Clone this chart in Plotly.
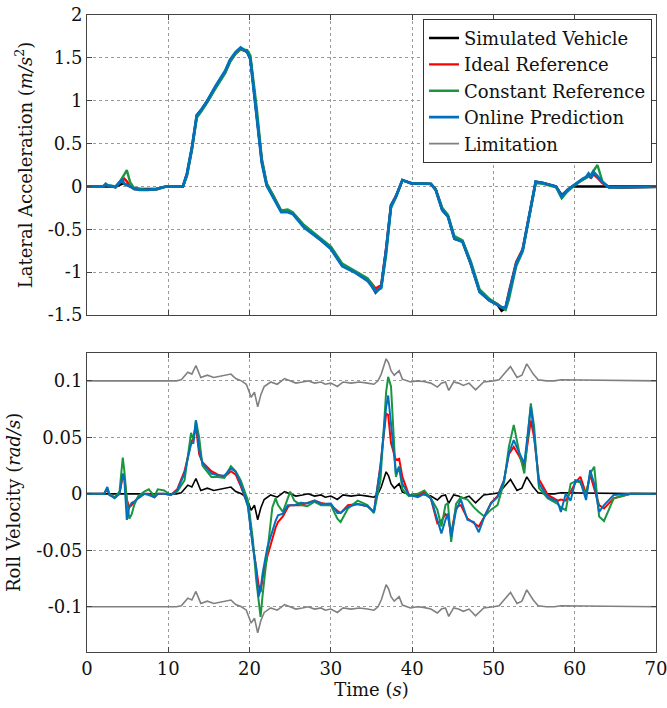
import plotly.graph_objects as go

# ---------------- Top: lateral acceleration (m/s^2) ----------------
TOP_T = [0, 2.0, 2.3, 2.6, 3.0, 3.5, 4.0, 4.3, 4.6, 4.9, 5.3, 5.8, 6.5, 7.5, 8.5, 9.3, 9.8, 11.8,
         12.3, 12.9, 13.5, 14.1, 14.8, 15.8, 17.0, 17.6, 18.3, 18.9, 19.7, 20.1, 20.9, 21.5, 22.1,
         23.0, 23.9, 24.7, 25.3, 26.7, 28.8, 30.0, 31.4, 32.9, 34.5, 35.0, 35.5, 36.2, 36.8, 37.4,
         38.0, 38.8, 39.9, 42.3, 42.9, 43.7, 44.4, 45.2, 46.2, 47.2, 48.3, 49.5, 50.5, 51.0, 51.5,
         51.9, 52.8, 53.6, 54.4, 55.2, 56.1, 57.7, 58.4, 59.1, 59.7, 60.4, 61.0, 61.4, 61.7, 62.0,
         62.3, 62.8, 63.4, 64.2, 66.0, 70.0]
ACC_VEHICLE = [0, 0, 0.005, 0, 0, -0.005, 0.02, 0.03, 0.03, 0.02, 0, -0.02, -0.03, -0.03, -0.03, -0.01, 0, 0,
               0.15, 0.45, 0.83, 0.9, 1.0, 1.16, 1.34, 1.47, 1.56, 1.61, 1.57, 1.49, 0.83, 0.29, 0.02,
               -0.14, -0.295, -0.29, -0.31, -0.47, -0.625, -0.72, -0.92, -0.995, -1.09, -1.15, -1.24, -1.17, -0.74, -0.22,
               -0.12, 0.075, 0.035, 0.03, -0.04, -0.275, -0.35, -0.61, -0.645, -0.9, -1.23, -1.33, -1.38, -1.45, -1.42,
               -1.25, -0.9, -0.74, -0.35, 0.055, 0.04, 0.0, -0.1, -0.04, 0.0, 0.0, 0.0, 0.0, 0.0, 0.0,
               0.0, 0.0, 0.0, 0.0, 0.0, 0.0]
ACC_IDEAL = [0, 0, 0.02, 0.01, 0.0, -0.01, 0.04, 0.07, 0.09, 0.06, 0.0, -0.03, -0.04, -0.04, -0.035, -0.01, 0, 0,
             0.14, 0.43, 0.81, 0.89, 0.99, 1.15, 1.33, 1.46, 1.55, 1.6, 1.57, 1.5, 0.86, 0.31, 0.03,
             -0.12, -0.29, -0.28, -0.31, -0.46, -0.62, -0.71, -0.91, -0.99, -1.08, -1.13, -1.19, -1.15, -0.72, -0.22,
             -0.11, 0.07, 0.04, 0.03, -0.03, -0.26, -0.34, -0.6, -0.64, -0.89, -1.22, -1.32, -1.37, -1.41, -1.41,
             -1.23, -0.88, -0.73, -0.34, 0.05, 0.04, 0.0, -0.11, -0.04, 0.0, 0.05, 0.08, 0.1, 0.12, 0.1,
             0.14, 0.1, 0.04, -0.01, -0.015, -0.005]
ACC_CONSTANT = [0, 0, 0.02, 0.01, 0.01, 0.0, 0.05, 0.09, 0.14, 0.19, 0.05, -0.02, -0.03, -0.04, -0.035, -0.01, 0, 0,
                0.12, 0.42, 0.8, 0.88, 0.98, 1.14, 1.32, 1.45, 1.55, 1.6, 1.59, 1.53, 0.9, 0.33, 0.04,
                -0.12, -0.28, -0.27, -0.3, -0.45, -0.61, -0.7, -0.9, -0.98, -1.07, -1.13, -1.22, -1.19, -0.8, -0.25,
                -0.13, 0.07, 0.04, 0.03, -0.03, -0.25, -0.33, -0.58, -0.63, -0.87, -1.2, -1.31, -1.37, -1.4, -1.44,
                -1.32, -0.93, -0.76, -0.38, 0.04, 0.03, -0.01, -0.14, -0.06, -0.01, 0.04, 0.08, 0.1, 0.12, 0.14,
                0.18, 0.25, 0.06, -0.01, -0.01, -0.005]
ACC_ONLINE = [0, 0, 0.03, 0.01, 0.005, -0.01, 0.05, 0.075, 0.03, 0.02, 0.0, -0.03, -0.04, -0.04, -0.03, -0.01, 0, 0,
              0.15, 0.45, 0.83, 0.9, 1.0, 1.17, 1.35, 1.48, 1.57, 1.62, 1.57, 1.48, 0.82, 0.28, 0.01,
              -0.14, -0.3, -0.3, -0.32, -0.48, -0.63, -0.73, -0.93, -1.0, -1.1, -1.16, -1.23, -1.17, -0.74, -0.22,
              -0.12, 0.075, 0.035, 0.03, -0.04, -0.275, -0.35, -0.61, -0.645, -0.9, -1.23, -1.33, -1.38, -1.41, -1.41,
              -1.25, -0.9, -0.74, -0.35, 0.055, 0.04, 0.0, -0.12, -0.04, 0.0, 0.05, 0.09, 0.11, 0.15, 0.1,
              0.17, 0.12, 0.05, -0.01, -0.01, -0.005]

# ---------------- Bottom: roll velocity (rad/s) ----------------
ROLL_T = [0, 2.1, 2.5, 2.75, 3.4, 4.0, 4.4, 4.6, 4.9, 5.2, 5.5, 5.8, 6.3, 7.05, 7.6, 8.3, 8.7, 9.5, 10.3,
          11.1, 12.0, 12.8, 13.1, 13.4, 13.8, 14.2, 15.3, 16.1, 16.9, 17.7, 18.3, 18.9, 19.8, 20.4, 20.8,
          21.1, 21.35, 21.6, 22.2, 22.8, 23.2, 23.5, 24.1, 24.7, 25.0, 25.5, 26.3, 27.1, 28.0, 28.8, 30.0,
          30.8, 31.2, 32.1, 33.3, 34.5, 35.3, 36.1, 36.8, 37.05, 37.4, 38.0, 38.4, 38.8, 39.6, 40.7, 41.5,
          42.3, 43.1, 43.6, 44.1, 44.4, 44.8, 45.4, 46.0, 46.8, 47.6, 48.2, 48.9, 49.7, 50.5, 51.3, 51.9,
          52.5, 53.2, 53.8, 54.6, 55.0, 55.6, 56.7, 57.9, 58.3, 58.9, 59.5, 60.1, 60.7, 61.4, 61.9, 62.4,
          63.0, 63.6, 64.8, 66.9, 70.0]
ROLL_ONLINE = [0, 0, 0.006, -0.001, -0.004, 0.0, 0.018, 0.012, -0.023, -0.0115, -0.008, -0.007, -0.004, 0.0, -0.001, -0.003, 0.0, 0.0, -0.001,
               0.003, 0.018, 0.0445, 0.045, 0.065, 0.039, 0.027, 0.018, 0.0165, 0.016, 0.0225, 0.0195, 0.009, -0.0115, -0.047, -0.065,
               -0.091, -0.085, -0.0705, -0.047, -0.032, -0.024, -0.019, -0.0175, -0.01, -0.01, -0.01, -0.008, -0.0085, -0.006, -0.009, -0.0085,
               -0.017, -0.017, -0.0115, -0.009, -0.011, -0.016, 0.024, 0.077, 0.087, 0.062, 0.018, 0.024, 0.009, -0.001, -0.003, 0.0,
               -0.004, -0.023, -0.035, -0.023, -0.0175, -0.038, -0.0145, -0.005, -0.023, -0.025, -0.034, -0.02, -0.0085, -0.003, 0.012, 0.036,
               0.0475, 0.036, 0.027, 0.077, 0.053, 0.009, -0.003, -0.007, -0.016, 0.0, -0.006, 0.012, 0.011, -0.0055, 0.021, 0.009,
               -0.016, -0.01, -0.001, 0.0, 0.0]
ROLL_IDEAL = [0, 0, 0.004, -0.001, -0.003, 0.0, 0.016, 0.014, -0.005, -0.012, -0.01, -0.007, -0.003, 0.0, 0.0, -0.003, 0.0, 0.0, -0.001,
              0.004, 0.02, 0.045, 0.05, 0.06, 0.035, 0.028, 0.02, 0.017, 0.015, 0.02, 0.017, 0.007, -0.01, -0.045, -0.068,
              -0.08, -0.087, -0.075, -0.055, -0.04, -0.03, -0.025, -0.02, -0.012, -0.01, -0.01, -0.01, -0.008, -0.006, -0.008, -0.01,
              -0.015, -0.017, -0.01, -0.009, -0.011, -0.016, 0.025, 0.071, 0.07, 0.045, 0.03, 0.031, 0.015, -0.001, -0.002, 0.002,
              -0.004, -0.026, -0.024, -0.018, -0.02, -0.035, -0.012, -0.01, -0.022, -0.026, -0.029, -0.02, -0.008, -0.002, 0.012, 0.035,
              0.0415, 0.033, 0.024, 0.065, 0.05, 0.013, -0.001, -0.006, -0.005, -0.006, 0.002, 0.01, 0.015, 0.0, 0.017, 0.005,
              -0.01, -0.013, -0.004, 0.0, 0.0]
ROLL_CONSTANT = [0, 0, 0.005, 0.0, -0.003, 0.002, 0.032, 0.02, -0.005, -0.022, -0.018, -0.01, -0.002, 0.002, 0.004, -0.002, 0.004, 0.003, -0.001,
                 0.002, 0.012, 0.054, 0.048, 0.065, 0.05, 0.025, 0.015, 0.015, 0.014, 0.0245, 0.02, 0.012, -0.006, -0.04, -0.075,
                 -0.095, -0.109, -0.09, -0.05, -0.012, -0.004, -0.01, -0.016, -0.004, 0.002, -0.006, -0.01, -0.011, -0.007, -0.01, -0.01,
                 -0.022, -0.025, -0.013, -0.006, -0.01, -0.017, 0.012, 0.09, 0.1035, 0.095, 0.015, 0.024, 0.004, -0.002, 0.0, 0.003,
                 -0.004, -0.014, -0.029, -0.01, -0.008, -0.0425, -0.009, -0.003, -0.005, -0.012, -0.016, -0.02, -0.014, -0.01, 0.01, 0.0415,
                 0.061, 0.036, 0.018, 0.08, 0.06, 0.005, -0.004, -0.009, -0.012, -0.0145, 0.009, 0.011, 0.01, -0.001, 0.018, 0.024,
                 -0.02, -0.024, -0.004, 0.0, 0.0]

VEH_T = [0, 11.0, 11.6, 12.4, 12.9, 13.4, 14.0, 14.8, 15.6, 16.4, 17.3, 17.7, 18.3, 19.0, 19.6, 20.2, 20.6, 21.0,
         21.4, 21.8, 22.6, 23.4, 24.3, 25.0, 25.7, 26.5, 27.2, 28.0, 28.8, 29.3, 30.0, 30.8, 31.5, 32.5, 33.5,
         34.5, 35.3, 35.8, 36.2, 36.8, 37.1, 37.4, 37.8, 38.4, 38.8, 39.8, 40.6, 41.4, 42.3, 43.1, 43.6, 44.1,
         44.5, 45.1, 45.7, 46.3, 47.0, 47.8, 48.8, 50.0, 50.7, 51.3, 52.1, 52.9, 53.5, 54.1, 54.9, 55.5, 56.5,
         57.5, 58.3, 70.0]
ROLL_VEHICLE = [0, 0, 0.001, 0.0077, 0.006, 0.0136, 0.003, 0.005, 0.003, 0.004, 0.005, 0.006, 0.002, 0.0, -0.003, -0.0145, -0.01, -0.023,
                -0.012, -0.005, -0.001, -0.003, 0.002, 0.0, -0.002, -0.001, 0.0, -0.002, -0.001, -0.003, -0.002, -0.005, -0.001, -0.002, -0.001,
                -0.002, -0.003, 0.0, 0.006, 0.0195, 0.016, 0.009, 0.005, 0.009, 0.0015, -0.001, 0.0, -0.0005, -0.002, -0.0055, -0.002, -0.001,
                -0.0085, -0.001, -0.002, -0.004, -0.002, -0.008, -0.001, 0.0, 0.001, 0.006, 0.0127, 0.003, 0.005, 0.015, 0.006, 0.001, 0.0,
                0.0, 0.001, 0.0]
LIMIT_MARGIN = 0.1  # limitation band = vehicle roll velocity +/- margin

TOP_TICKS = [-1.5, -1, -0.5, 0, 0.5, 1, 1.5, 2]
TOP_TICK_LABELS = ["-1.5", "-1", "-0.5", "0", "0.5", "1", "1.5", "2"]
BOT_TICKS = [-0.1, -0.05, 0, 0.05, 0.1]
BOT_TICK_LABELS = ["-0.1", "-0.05", "0", "0.05", "0.1"]

for arr in (ACC_VEHICLE, ACC_IDEAL, ACC_CONSTANT, ACC_ONLINE):
    assert len(arr) == len(TOP_T), len(arr)
for arr in (ROLL_ONLINE, ROLL_IDEAL, ROLL_CONSTANT):
    assert len(arr) == len(ROLL_T), len(arr)
assert len(ROLL_VEHICLE) == len(VEH_T)

LIM_UPPER = [v + LIMIT_MARGIN for v in ROLL_VEHICLE]
LIM_LOWER = [v - LIMIT_MARGIN for v in ROLL_VEHICLE]

NAMES = ["Simulated Vehicle", "Ideal Reference", "Constant Reference", "Online Prediction", "Limitation"]
COLORS = ["#000000", "#ff0000", "#1a9641", "#0072bd", "#808080"]
FONT = "DejaVu Serif"

fig = go.Figure()
top_series = [ACC_VEHICLE, ACC_IDEAL, ACC_CONSTANT, ACC_ONLINE]
for i, ys in enumerate(top_series):
    fig.add_trace(go.Scatter(x=TOP_T, y=ys, mode="lines", name=NAMES[i],
                             line=dict(color=COLORS[i], width=2.8 if i == 3 else 2.4),
                             xaxis="x", yaxis="y"))
# Limitation band: drawn in the lower panel (upper bound carries the legend entry)
fig.add_trace(go.Scatter(x=VEH_T, y=LIM_UPPER, mode="lines", name=NAMES[4],
                         line=dict(color=COLORS[4], width=1.6), xaxis="x2", yaxis="y2"))
fig.add_trace(go.Scatter(x=VEH_T, y=LIM_LOWER, mode="lines", line=dict(color=COLORS[4], width=1.6),
                         xaxis="x2", yaxis="y2", showlegend=False))
fig.add_trace(go.Scatter(x=VEH_T, y=ROLL_VEHICLE, mode="lines", line=dict(color=COLORS[0], width=1.6),
                         xaxis="x2", yaxis="y2", showlegend=False))
for ys, c in ((ROLL_IDEAL, COLORS[1]), (ROLL_CONSTANT, COLORS[2]), (ROLL_ONLINE, COLORS[3])):
    fig.add_trace(go.Scatter(x=ROLL_T, y=ys, mode="lines", line=dict(color=c, width=2.0),
                             xaxis="x2", yaxis="y2", showlegend=False))

axis_common = dict(showline=True, linecolor="#444444", linewidth=1, mirror="ticks",
                   ticks="inside", ticklen=5, tickcolor="#444444", automargin=False,
                   ticklabeloverflow="allow",
                   showgrid=True, gridcolor="#9a9a9a", gridwidth=1, griddash="3px,3px",
                   zeroline=False, tickfont=dict(family=FONT, size=18, color="#111111"))

fig.update_layout(
    width=667, height=708,
    margin=dict(l=87, r=11, t=15, b=56),
    paper_bgcolor="white", plot_bgcolor="white",
    font=dict(family=FONT, size=18, color="#111111"),
    xaxis=dict(domain=[0, 1], anchor="y", range=[0, 70], dtick=10, showticklabels=False, **axis_common),
    yaxis=dict(domain=[0.529, 1], anchor="x", range=[-1.5, 2], tickvals=TOP_TICKS, ticktext=TOP_TICK_LABELS,
               title=dict(text="Lateral Acceleration (<i>m/s</i><sup>2</sup>)", standoff=10,
                          font=dict(family=FONT, size=18)), **axis_common),
    xaxis2=dict(domain=[0, 1], anchor="y2", range=[0, 70], dtick=10, matches="x",
                title=dict(text="Time (<i>s</i>)", standoff=4, font=dict(family=FONT, size=18)), **axis_common),
    yaxis2=dict(domain=[0, 0.470], anchor="x2", range=[-0.14, 0.125], tickvals=BOT_TICKS, ticktext=BOT_TICK_LABELS,
                title=dict(text="Roll Velocity (<i>rad/s</i>)", standoff=10, font=dict(family=FONT, size=18)),
                **axis_common),
    legend=dict(x=0.993, y=0.994, xref="paper", yref="paper", xanchor="right", yanchor="top", bgcolor="white",
                bordercolor="#333333", borderwidth=1, font=dict(family=FONT, size=18, color="#111111"),
                tracegroupgap=0, itemwidth=30),
    showlegend=True,
)

fig.write_html("out.html", config={"displayModeBar": False, "staticPlot": True},
               post_script="document.body.style.margin='0px';")
